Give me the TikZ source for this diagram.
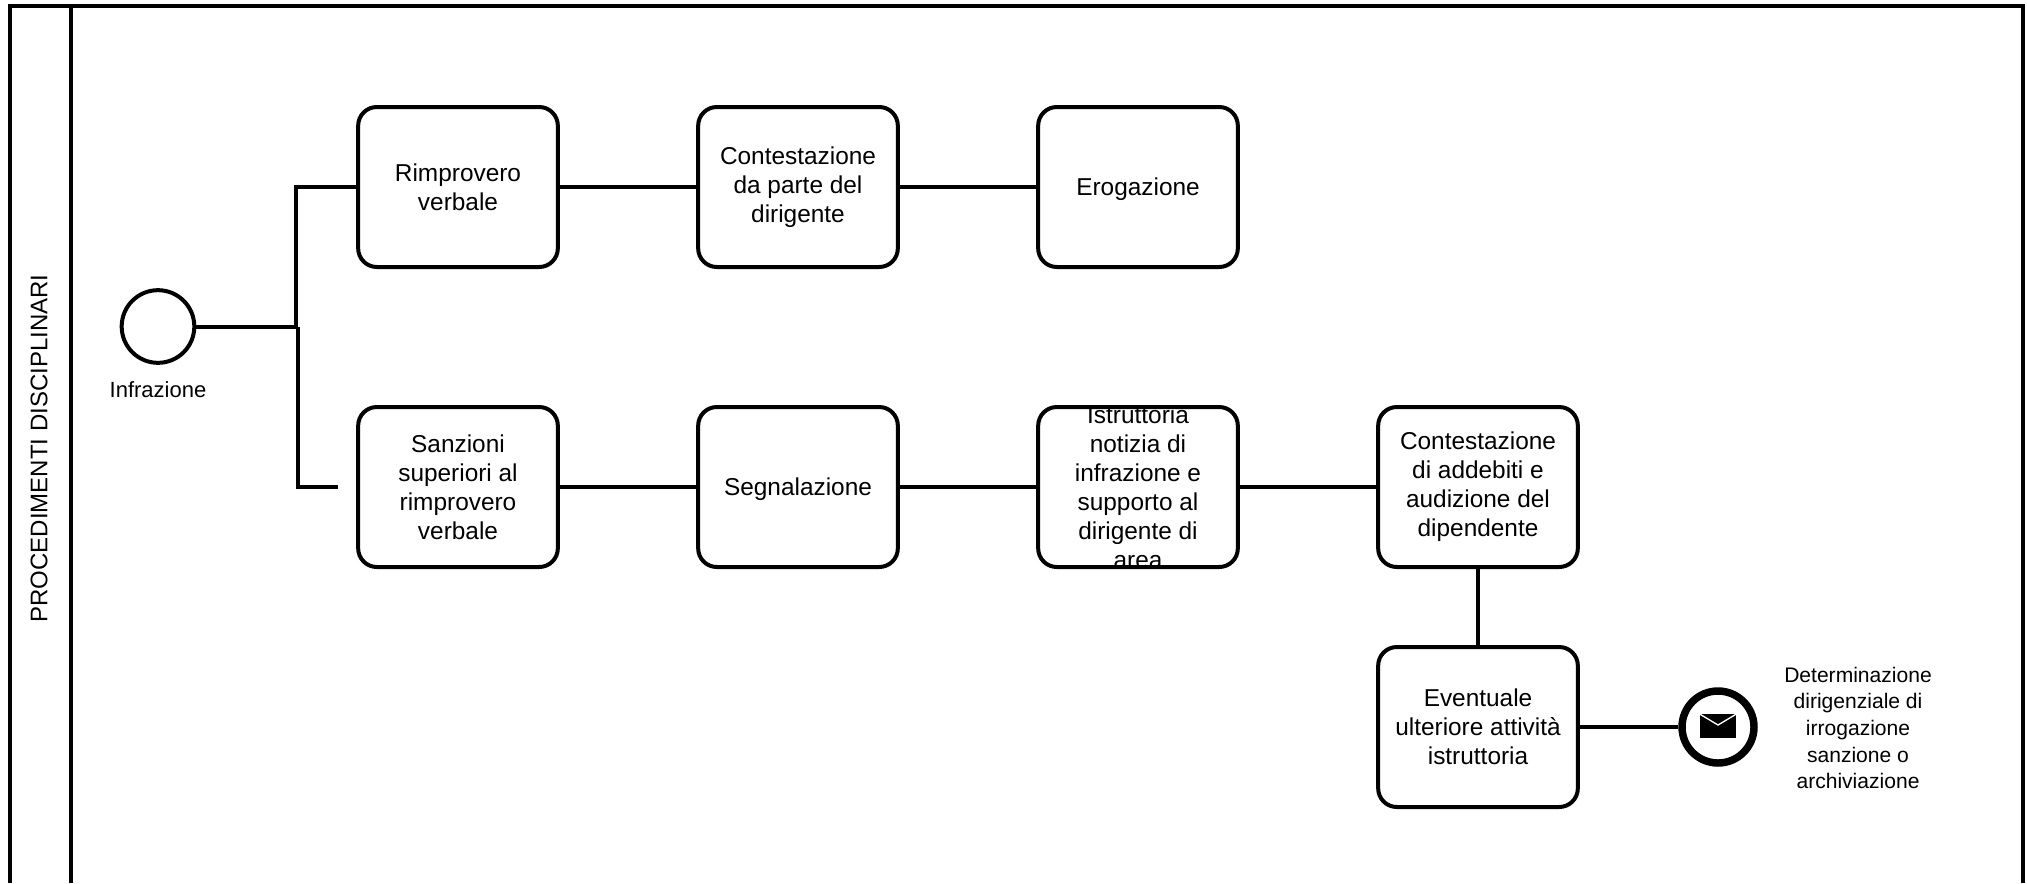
\documentclass[tikz,border=0pt]{standalone}
\usepackage{fontspec}
\setmainfont{Liberation Sans}
\usetikzlibrary{calc}

\tikzset{
	attivita/.style={draw=black, line width=3pt, rounded corners=14pt, align=center,
		minimum width=149.75pt, minimum height=120pt, inner xsep=0pt, inner ysep=-10pt,
		execute at begin node={\rule{0pt}{17pt}},
		font=\fontsize{18.3}{21.7}\selectfont},
	linea/.style={draw=black, line width=3pt},
	etichetta/.style={align=center, inner sep=0pt, font=\fontsize{15.8}{20}\selectfont},
}

\begin{document}
\begin{tikzpicture}[x=.75pt,y=-.75pt]
\useasboundingbox (0,0) rectangle (2027,883);

%%%%%%%%%%%%%%%%%%%%%%%%%%%%%%%%%%%%%%%%%%%%%%%% 	CORSIA
\draw[linea] (10,883) -- (10,6) -- (2023,6) -- (2023,883);
\draw[linea] (70.5,6) -- (70.5,883);
\node[rotate=90, inner sep=0pt, font=\fontsize{18}{21.7}\selectfont] (corsia) at (39,448.5) {PROCEDIMENTI DISCIPLINARI};

%%%%%%%%%%%%%%%%%%%%%%%%%%%%%%%%%%%%%%%%%%%%%%%% 	EVENTO INIZIALE
\node[circle, draw=black, line width=3pt, minimum size=54.5pt, inner sep=0pt] (inizio) at (158,326.5) {};
\node[etichetta, font=\fontsize{16.5}{20}\selectfont] (infrazione) at (158,390) {Infrazione};

%%%%%%%%%%%%%%%%%%%%%%%%%%%%%%%%%%%%%%%%%%%%%%%% 	PRIMA RIGA
\node[attivita] (rimprovero) at (458,187) {Rimprovero\\verbale};
\node[attivita] (contestazione) at (798,187) {Contestazione\\da parte del\\dirigente};
\node[attivita] (erogazione) at (1138,187) {Erogazione};

%%%%%%%%%%%%%%%%%%%%%%%%%%%%%%%%%%%%%%%%%%%%%%%% 	SECONDA RIGA
\node[attivita] (sanzioni) at (458,487) {Sanzioni\\superiori al\\rimprovero\\verbale};
\node[attivita] (segnalazione) at (798,487) {Segnalazione};
\node[attivita] (istruttoria) at (1138,487) {Istruttoria\\notizia di\\infrazione e\\supporto al\\dirigente di\\area};
\node[attivita] (addebiti) at (1478,487) {Contestazione\\di addebiti e\\audizione del\\dipendente};

%%%%%%%%%%%%%%%%%%%%%%%%%%%%%%%%%%%%%%%%%%%%%%%% 	TERZA RIGA
\node[attivita] (ulteriore) at (1478,727) {Eventuale\\ulteriore attività\\istruttoria};

%%%%%%%%%%%%%%%%%%%%%%%%%%%%%%%%%%%%%%%%%%%%%%%% 	EVENTO FINALE
\node[circle, draw=black, line width=5.6pt, minimum size=54pt, inner sep=0pt] (fine) at (1718,727) {};
\node[rectangle, fill=black, minimum width=27pt, minimum height=17.5pt, inner sep=0pt] (busta) at (1718,726) {};
\draw[white, line width=1pt] (busta.north west) -- ($(busta.center)+(0,-1)$) -- (busta.north east);
\node[etichetta] (determinazione) at (1858,728) {Determinazione\\dirigenziale di\\irrogazione\\sanzione o\\archiviazione};

%%%%%%%%%%%%%%%%%%%%%%%%%%%%%%%%%%%%%%%%%%%%%%%% 	CONNETTORI
\coordinate (ramoalto) at (296,326.5);
\coordinate (ramobasso) at (298,326.5);
\coordinate (aperto) at (338,487);
\draw[linea] (inizio) -- (ramobasso);
\draw[linea] (ramoalto) |- (rimprovero);
\draw[linea] (ramobasso) |- (aperto);
\draw[linea] (rimprovero) -- (contestazione);
\draw[linea] (contestazione) -- (erogazione);
\draw[linea] (sanzioni) -- (segnalazione);
\draw[linea] (segnalazione) -- (istruttoria);
\draw[linea] (istruttoria) -- (addebiti);
\draw[linea] (addebiti) -- (ulteriore);
\draw[linea] (ulteriore) -- (fine);

\end{tikzpicture}
\end{document}
